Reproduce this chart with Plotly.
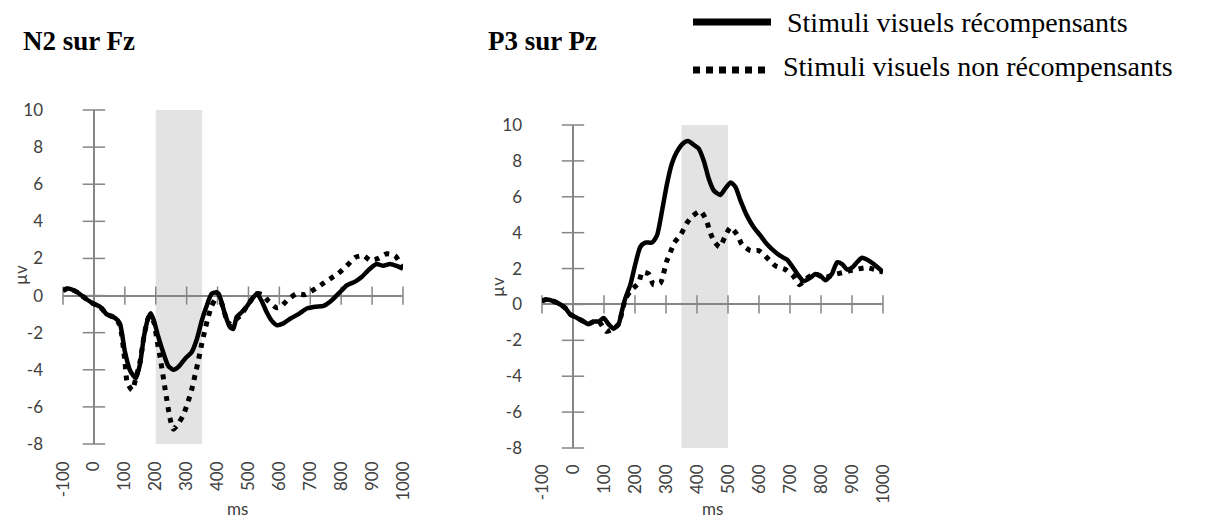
import plotly.graph_objects as go

# ---------------- data ----------------
# N2 on Fz
fz_t_rew = [-100, -84, -56, -24, 0, 20, 41, 68, 84, 100, 116, 127, 136, 149, 162, 176, 184, 194, 208, 225,
            241, 257, 273, 295, 316, 333, 349, 365, 381, 397, 408, 424, 440, 451, 462, 478, 494, 511, 527,
            543, 559, 575, 592, 613, 635, 662, 689, 716, 743, 770, 791, 818, 845, 866, 893, 915, 936, 958,
            979, 1000]
fz_v_rew = [0.27, 0.38, 0.2, -0.2, -0.45, -0.6, -1.0, -1.2, -1.5, -3.0, -4.0, -4.3, -4.45, -3.7, -2.2, -1.2,
            -0.95, -1.35, -2.2, -3.1, -3.8, -4.0, -3.85, -3.4, -3.05, -2.35, -1.35, -0.55, 0.1, 0.18, -0.1,
            -1.0, -1.7, -1.8, -1.15, -0.9, -0.6, -0.2, 0.1, -0.3, -0.9, -1.35, -1.6, -1.5, -1.25, -1.0,
            -0.7, -0.6, -0.55, -0.25, 0.1, 0.55, 0.75, 1.0, 1.45, 1.7, 1.6, 1.7, 1.6, 1.45]

fz_t_non = [-100, -84, -56, -24, 0, 20, 41, 68, 84, 100, 108, 124, 135, 150, 162, 176, 184, 195, 205, 214,
            230, 246, 257, 273, 289, 305, 316, 327, 338, 349, 360, 370, 381, 392, 402, 415, 430, 445, 460,
            478, 494, 511, 527, 545, 565, 590, 604, 629, 656, 683, 710, 737, 764, 791, 818, 845, 872, 893,
            920, 947, 974, 1000]
fz_v_non = [0.27, 0.38, 0.2, -0.2, -0.45, -0.6, -1.0, -1.2, -1.6, -3.5, -4.7, -5.1, -4.5, -3.5, -2.2, -1.2,
            -1.1, -1.5, -2.5, -3.3, -5.0, -6.6, -7.2, -6.9, -6.45, -5.7, -5.1, -4.3, -3.5, -2.6, -1.8,
            -1.15, -0.55, -0.2, 0.1, -0.5, -1.3, -1.6, -1.3, -1.0, -0.6, -0.2, 0.1, 0.05, -0.3, -0.65,
            -0.6, -0.2, 0.1, 0.05, 0.3, 0.6, 0.9, 1.2, 1.6, 2.05, 2.15, 1.9, 2.0, 2.25, 2.15, 1.5]

# P3 on Pz
pz_t_rew = [-100, -84, -52, -25, -9, 13, 34, 50, 67, 83, 99, 115, 131, 147, 158, 169, 185, 201, 217, 233,
            255, 271, 287, 303, 319, 335, 357, 373, 389, 405, 422, 438, 454, 475, 491, 508, 524, 540, 561,
            583, 604, 626, 647, 669, 690, 706, 728, 744, 766, 782, 798, 814, 835, 852, 868, 884, 900, 916,
            932, 948, 970, 1000]
pz_v_rew = [0.2, 0.28, 0.1, -0.2, -0.55, -0.75, -0.95, -1.1, -0.95, -0.95, -0.75, -1.1, -1.35, -1.1, -0.35,
            0.35, 1.1, 2.25, 3.2, 3.45, 3.45, 3.85, 5.2, 6.7, 7.85, 8.5, 9.0, 9.1, 8.9, 8.7, 8.0, 7.0, 6.35,
            6.1, 6.45, 6.8, 6.55, 5.8, 4.95, 4.3, 3.85, 3.35, 3.0, 2.7, 2.5, 2.15, 1.6, 1.3, 1.5, 1.7, 1.6,
            1.35, 1.7, 2.35, 2.25, 1.95, 2.05, 2.35, 2.6, 2.5, 2.25, 1.8]

pz_t_non = [-100, -84, -52, -25, -9, 13, 34, 50, 67, 83, 108, 131, 147, 169, 185, 212, 223, 244, 260, 282,
            301, 314, 327, 348, 366, 384, 411, 430, 441, 454, 473, 491, 508, 529, 545, 572, 599, 626, 653,
            685, 710, 731, 750, 780, 810, 852, 900, 948, 1000]
pz_v_non = [0.2, 0.28, 0.1, -0.2, -0.55, -0.75, -0.95, -1.1, -0.95, -0.95, -1.5, -1.35, -1.1, 0.3, 0.75,
            1.2, 1.8, 1.7, 1.1, 1.2, 2.35, 2.9, 3.45, 3.9, 4.5, 4.9, 5.2, 4.7, 4.1, 3.55, 3.2, 3.8, 4.3,
            3.9, 3.35, 3.0, 3.0, 2.6, 2.15, 1.95, 1.6, 1.1, 1.4, 1.7, 1.5, 1.7, 1.9, 2.05, 1.8]

fz_window = [200, 350]
pz_window = [350, 500]

x_ticks = list(range(-100, 1001, 100))
x_tick_text = ["-100", "0", "100", "200", "300", "400", "500", "600", "700", "800", "900", "1000"]
y_ticks = list(range(-8, 11, 2))
y_tick_text = ["-8", "-6", "-4", "-2", "0", "2", "4", "6", "8", "10"]
y_range = [-8, 10]
x_range = [-100, 1000]

title_left = "N2 sur Fz"
title_right = "P3 sur Pz"
legend_rew = "Stimuli visuels récompensants"
legend_non = "Stimuli visuels non récompensants"
y_label = "µv"
x_label = "ms"

# ---------------- figure ----------------
W, H = 1215, 524
OFF = 8  # page body margin compensation


def px(x):
    return (x - OFF) / W


def py(y):
    return 1 - (y - OFF) / H


AX_COL = "#868686"
TXT_COL = "#404040"
TICK_FONT = dict(family="Lato", size=17, color=TXT_COL)
DOT_DASH = "5px,6px"

fig = go.Figure()

panels = [
    ("x", "y", fz_t_rew, fz_v_rew, fz_t_non, fz_v_non, fz_window),
    ("x2", "y2", pz_t_rew, pz_v_rew, pz_t_non, pz_v_non, pz_window),
]

for xr, yr, tr, vr, tn, vn, win in panels:
    fig.add_shape(type="rect", xref=xr, yref=yr, x0=win[0], x1=win[1], y0=y_range[0], y1=y_range[1],
                  fillcolor="#e3e3e3", line_width=0, layer="below")
    # crossing tick marks on the zero axes
    fig.add_trace(go.Scatter(x=x_ticks, y=[0] * len(x_ticks), xaxis=xr, yaxis=yr, mode="markers",
                             marker=dict(symbol="line-ns", size=13, line=dict(width=1.5, color=AX_COL)),
                             cliponaxis=False, hoverinfo="skip", showlegend=False))
    fig.add_trace(go.Scatter(x=[0] * len(y_ticks), y=y_ticks, xaxis=xr, yaxis=yr, mode="markers",
                             marker=dict(symbol="line-ew", size=16, line=dict(width=1.5, color=AX_COL)),
                             cliponaxis=False, hoverinfo="skip", showlegend=False))
    fig.add_trace(go.Scatter(x=tn, y=vn, xaxis=xr, yaxis=yr, mode="lines",
                             line=dict(color="black", width=5, dash=DOT_DASH, shape="spline", smoothing=0.6),
                             cliponaxis=False, showlegend=False, name=legend_non))
    fig.add_trace(go.Scatter(x=tr, y=vr, xaxis=xr, yaxis=yr, mode="lines",
                             line=dict(color="black", width=4.5, shape="spline", smoothing=0.6),
                             cliponaxis=False, showlegend=False, name=legend_rew))


def xax(x0, x1, standoff):
    return dict(domain=[px(x0), px(x1)], range=x_range, tickvals=x_ticks, ticktext=x_tick_text,
                tickangle=-90, ticks="", showline=False, showgrid=False, zeroline=True,
                zerolinecolor=AX_COL, zerolinewidth=1.5, tickfont=TICK_FONT, ticklabelstandoff=standoff,
                automargin=False)


def yax(top, bottom, standoff, anchor):
    return dict(domain=[py(bottom), py(top)], range=y_range, tickvals=y_ticks, ticktext=y_tick_text,
                ticks="", anchor=anchor, showline=False, showgrid=False, zeroline=True,
                zerolinecolor=AX_COL, zerolinewidth=1.5, tickfont=TICK_FONT, ticklabelstandoff=standoff,
                automargin=False)


fig.update_layout(
    width=W, height=H, margin=dict(l=0, r=0, t=0, b=0, autoexpand=False),
    paper_bgcolor="white", plot_bgcolor="white", showlegend=False,
    xaxis=dict(xax(63, 403, 13), anchor="y"),
    yaxis=yax(110, 444, 19, "x"),
    xaxis2=dict(xax(542, 883, 12), anchor="y2"),
    yaxis2=yax(125, 448, 19, "x2"),
)

ann = []
serif_b = dict(family="Liberation Serif", size=27, color="black")
serif = dict(family="Liberation Serif", size=28, color="black")


def add_text(text, x, y, font, xanchor="left", angle=0):
    ann.append(dict(text=text, x=px(x), y=py(y), xanchor=xanchor, yanchor="middle", textangle=angle,
                    xref="paper", yref="paper", showarrow=False, font=font))


add_text("<b>" + title_left + "</b>", 21, 41, serif_b)
add_text("<b>" + title_right + "</b>", 486, 41, serif_b)
add_text(legend_rew, 785, 23, serif)
add_text(legend_non, 781, 66, serif)
add_text(y_label, 20, 275, TICK_FONT, "center", -90)
add_text(y_label, 497, 287, TICK_FONT, "center", -90)
add_text(x_label, 237, 508, TICK_FONT, "center")
add_text(x_label, 712, 508, TICK_FONT, "center")
fig.update_layout(annotations=ann)

fig.add_shape(type="line", xref="paper", yref="paper", x0=px(693), x1=px(771), y0=py(22), y1=py(22),
              line=dict(color="black", width=7))
fig.add_shape(type="line", xref="paper", yref="paper", x0=px(693), x1=px(766), y0=py(70), y1=py(70),
              line=dict(color="black", width=7, dash="7px,6px"))

fig.write_html("out.html")
